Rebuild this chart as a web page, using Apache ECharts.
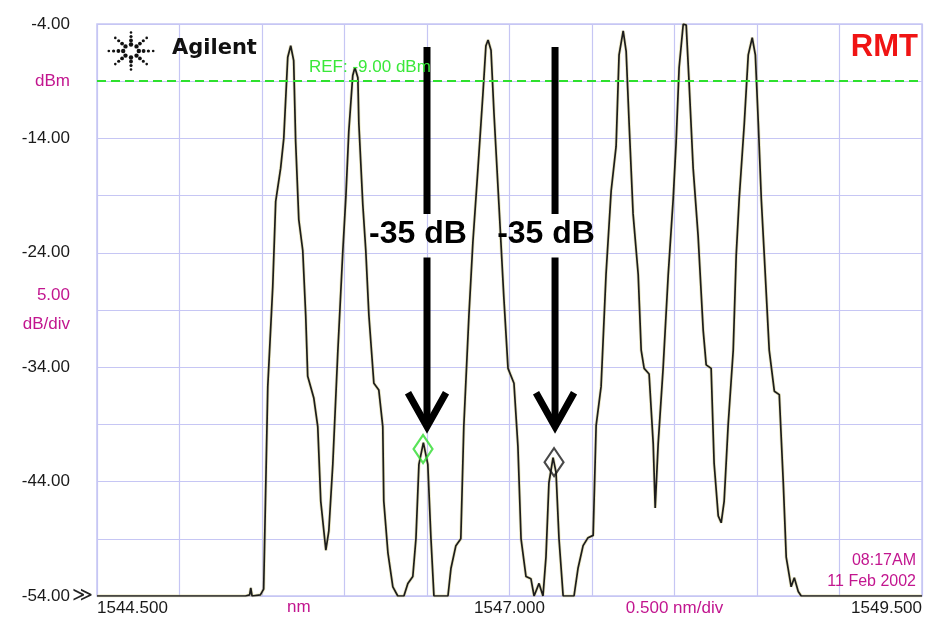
<!DOCTYPE html>
<html><head><meta charset="utf-8">
<script src="https://cdn.jsdelivr.net/npm/echarts@6/dist/echarts.min.js"></script>
<style>html,body{margin:0;padding:0;background:#fff}#c{width:941px;height:621px}</style>
</head><body><div id="c"></div>
<script>
// ---- spectrum trace (nm, dBm) ----
const wavelength = [
1544.500,1545.400,1545.425,1545.432,1545.440,1545.490,1545.510,1545.535,1545.565,1545.583,
1545.613,1545.632,1545.656,1545.674,1545.692,1545.704,1545.723,1545.747,1545.765,1545.777,
1545.814,1545.838,1545.856,1545.887,1545.905,1545.929,1545.959,1545.990,1546.008,1546.026,
1546.050,1546.063,1546.081,1546.087,1546.111,1546.129,1546.148,1546.178,1546.208,1546.232,
1546.238,1546.263,1546.293,1546.323,1546.360,1546.384,1546.414,1546.433,1546.451,1546.478,
1546.505,1546.524,1546.542,1546.627,1546.645,1546.675,1546.705,1546.723,1546.754,1546.778,
1546.809,1546.839,1546.857,1546.870,1546.888,1546.906,1546.936,1546.966,1546.991,1547.027,
1547.051,1547.070,1547.100,1547.130,1547.149,1547.179,1547.203,1547.221,1547.239,1547.264,
1547.282,1547.300,1547.325,1547.391,1547.415,1547.446,1547.476,1547.507,1547.525,1547.555,
1547.585,1547.616,1547.646,1547.664,1547.689,1547.707,1547.725,1547.749,1547.780,1547.798,
1547.816,1547.846,1547.871,1547.883,1547.901,1547.931,1547.962,1547.992,1548.010,1548.028,
1548.053,1548.071,1548.089,1548.113,1548.143,1548.174,1548.192,1548.222,1548.240,1548.265,
1548.283,1548.301,1548.325,1548.356,1548.374,1548.392,1548.423,1548.447,1548.471,1548.490,
1548.508,1548.526,1548.544,1548.574,1548.605,1548.635,1548.659,1548.677,1548.707,1548.726,
1548.750,1548.768,1549.500
];
const power = [
-54.0,-54.0,-53.9,-53.3,-54.0,-53.9,-53.4,-35.7,-27.0,-19.5,
-16.6,-14.0,-6.9,-5.9,-7.2,-14.3,-21.1,-23.8,-29.5,-34.8,
-36.7,-39.2,-45.7,-50.0,-48.3,-42.5,-32.8,-23.8,-19.2,-13.4,
-8.5,-7.8,-8.7,-12.7,-19.8,-23.8,-29.5,-35.4,-36.0,-39.2,
-45.7,-50.2,-53.2,-54.0,-54.0,-52.9,-52.3,-49.0,-42.5,-40.6,
-42.5,-49.0,-54.0,-54.0,-51.6,-49.6,-49.0,-39.2,-29.5,-23.1,
-16.6,-10.1,-5.9,-5.4,-6.3,-11.8,-19.8,-28.0,-34.1,-35.4,
-40.9,-49.0,-52.3,-52.5,-54.0,-52.9,-54.0,-50.6,-44.1,-41.9,
-43.2,-49.0,-54.0,-54.0,-51.6,-49.6,-48.9,-48.7,-39.1,-35.7,
-25.9,-18.6,-14.7,-6.7,-4.6,-6.4,-12.7,-20.6,-25.9,-32.5,
-34.1,-34.6,-40.7,-46.3,-40.7,-34.1,-25.9,-19.3,-14.3,-7.8,
-4.0,-4.1,-9.3,-16.6,-22.5,-30.8,-33.8,-34.1,-42.4,-47.0,
-47.6,-45.7,-39.1,-32.5,-24.2,-19.3,-12.7,-6.7,-5.2,-6.7,
-12.7,-19.3,-24.2,-32.5,-36.1,-36.4,-44.0,-50.6,-53.2,-52.4,
-53.6,-54.0,-54.0
];
// ---- markers & annotations ----
const markerWavelength = [1546.476, 1547.270];
const markerPower = [-41.15, -42.3];
const markerColors = ['#2fdc2f', '#1a1a1a'];
const arrowWavelength = [1546.500, 1547.276];
const arrowTopPower = [-6.0, -6.0];
const arrowGapTopPower = [-20.6, -20.6];
const arrowLabelPower = [-22.4, -22.4];
const arrowGapBottomPower = [-24.4, -24.4];
const arrowTipPower = [-39.2, -39.2];
const arrowLabels = ['-35 dB', '-35 dB'];
const refLevel = -9.0;
const refLabel = 'REF: -9.00 dBm';
// ---- axes ----
const xMin = 1544.5, xMax = 1549.5, xStep = 0.5;
const yMin = -54, yMax = -4, yStep = 5;
const xLabelValues = [1544.5, 1547.0, 1549.5];
const xScaleLabelValue = 1548.0, xScaleLabel = '0.500 nm/div', xUnitLabel = 'nm';
const yLabelValues = [-54, -44, -34, -24, -14, -4];
const yUnitLabelValue = -9, yUnitLabel = 'dBm';
const yScaleLabelValue = -29, yScaleLabel = ['5.00', 'dB/div'];
const timeLabel = ['08:17AM', '11 Feb 2002'];

const OFF = -yMin; // axis runs 0..50 so ticks start at a multiple of the step
const FONT = '"Liberation Sans", Arial, sans-serif';
const MAG = '#c2168f';
const TXT = '#1a1a1a';

const chart = echarts.init(document.getElementById('c'), null, {renderer: 'canvas'});
const trace = wavelength.map((w, i) => [w, power[i] + OFF]);
const markers = markerWavelength.map((w, i) => ({value: [w, markerPower[i] + OFF],
  itemStyle: {color: 'rgba(0,0,0,0)', borderColor: markerColors[i], borderWidth: 2.2}}));
const arrows = arrowWavelength.map((w, i) => [w, arrowTopPower[i] + OFF, arrowGapTopPower[i] + OFF,
  arrowLabelPower[i] + OFF, arrowGapBottomPower[i] + OFF, arrowTipPower[i] + OFF]);

const near = (a, b) => Math.abs(a - b) < 1e-6;

// logo dots
const logo = [];
const lcx = 131, lcy = 51;
for (let k = 0; k < 8; k++) {
  const a = k * Math.PI / 4;
  const sx = 1.2, sy = 1.0;
  [6.5, 10.5, 14.5, 18.5].forEach((r, j) => {
    logo.push({type: 'circle', shape: {cx: lcx + Math.cos(a) * r * sx, cy: lcy + Math.sin(a) * r * sy, r: [2.2, 1.9, 1.6, 1.3][j]},
      style: {fill: '#111'}});
  });
}

chart.setOption({
  animation: false,
  backgroundColor: '#fff',
  grid: {left: 97, right: 19, top: 24, bottom: 25, show: true, borderColor: '#c6c6f4', borderWidth: 1.5},
  xAxis: {
    type: 'value', min: xMin, max: xMax, interval: xStep,
    axisLine: {show: false}, axisTick: {show: false},
    splitLine: {show: true, lineStyle: {color: '#c6c6f4', width: 1.2}},
    axisLabel: {
      margin: 4, fontSize: 17, fontFamily: FONT, color: TXT,
      alignMinLabel: 'left', alignMaxLabel: 'right',
      formatter: v => {
        if (xLabelValues.some(x => near(x, v))) return v.toFixed(3);
        if (near(v, xScaleLabelValue)) return '{m|' + xScaleLabel + '}';
        return '';
      },
      rich: {m: {color: MAG, fontSize: 17, fontFamily: FONT}}
    }
  },
  yAxis: {
    type: 'value', min: 0, max: yMax + OFF, interval: yStep,
    axisLine: {show: false}, axisTick: {show: false},
    splitLine: {show: true, lineStyle: {color: '#c6c6f4', width: 1.2}},
    axisLabel: {
      margin: 27, fontSize: 17, fontFamily: FONT, color: TXT,
      formatter: v => {
        const d = Math.round(v - OFF);
        if (yLabelValues.includes(d)) return d.toFixed(2);
        if (d === yUnitLabelValue) return '{m|' + yUnitLabel + '}';
        if (d === yScaleLabelValue) return '{m|' + yScaleLabel[0] + '}\n{m|' + yScaleLabel[1] + '}';
        return '';
      },
      rich: {m: {color: MAG, fontSize: 17, fontFamily: FONT, lineHeight: 29, align: 'right'}}
    }
  },
  series: [
    {type: 'line', data: trace, showSymbol: false, silent: true, z: 2,
      lineStyle: {color: 'rgba(205,195,110,0.45)', width: 3.2}},
    {type: 'line', data: trace, showSymbol: false, silent: true, z: 3,
      lineStyle: {color: '#1c1c1c', width: 1.7},
      markLine: {silent: true, symbol: 'none', z: 4,
        lineStyle: {color: '#2ee02e', width: 2, type: [9, 5]},
        label: {show: false},
        data: [{yAxis: refLevel + OFF}]}},
    {type: 'scatter', data: markers, symbol: 'diamond', symbolSize: [19, 28], z: 5, silent: true},
    {type: 'custom', data: arrows, z: 6, silent: true, clip: false,
      encode: {x: 0, y: 1},
      renderItem: (params, api) => {
        const x = api.value(0);
        const pTop = api.coord([x, api.value(1)]);
        const pGT = api.coord([x, api.value(2)]);
        const pLab = api.coord([x, api.value(3)]);
        const pGB = api.coord([x, api.value(4)]);
        const pTip = api.coord([x, api.value(5)]);
        const st = {stroke: '#000', lineWidth: 7};
        return {type: 'group', children: [
          {type: 'line', shape: {x1: pTop[0], y1: pTop[1], x2: pGT[0], y2: pGT[1]}, style: st},
          {type: 'line', shape: {x1: pGB[0], y1: pGB[1], x2: pTip[0], y2: pTip[1] - 2}, style: st},
          {type: 'polyline', shape: {points: [[pTip[0] - 19, pTip[1] - 34], [pTip[0], pTip[1]], [pTip[0] + 19, pTip[1] - 34]]},
            style: {stroke: '#000', lineWidth: 7, fill: null, lineJoin: 'miter'}},
          {type: 'text', x: pLab[0] - 9, y: pLab[1],
            style: {text: arrowLabels[params.dataIndex], font: 'bold 32px ' + FONT, fill: '#000', align: 'center', verticalAlign: 'middle'}}
        ]};
      }}
  ],
  graphic: [
    {type: 'group', children: logo, z: 10},
    {type: 'text', left: 172, top: 38, z: 10, style: {text: 'Agilent', font: 'bold 21px "DejaVu Sans"', fill: '#111'}},
    {type: 'text', right: 23, top: 32, z: 10, style: {text: 'RMT', font: 'bold 31px ' + FONT, fill: '#f01414'}},
    {type: 'text', left: 309, top: 59, z: 10, style: {text: refLabel, font: '17px ' + FONT, fill: '#3ae83a'}},
    {type: 'text', left: 287, top: 599, z: 10, style: {text: xUnitLabel, font: '17px ' + FONT, fill: MAG}},
    {type: 'text', right: 25, top: 553, z: 10, style: {text: timeLabel[0], font: '16px ' + FONT, fill: MAG, align: 'right'}},
    {type: 'text', right: 25, top: 574, z: 10, style: {text: timeLabel[1], font: '16px ' + FONT, fill: MAG, align: 'right'}},
    {type: 'text', left: 72, top: 586, z: 10, style: {text: '\u226B', font: '20px "DejaVu Sans"', fill: '#222'}}
  ]
});
</script></body></html>
